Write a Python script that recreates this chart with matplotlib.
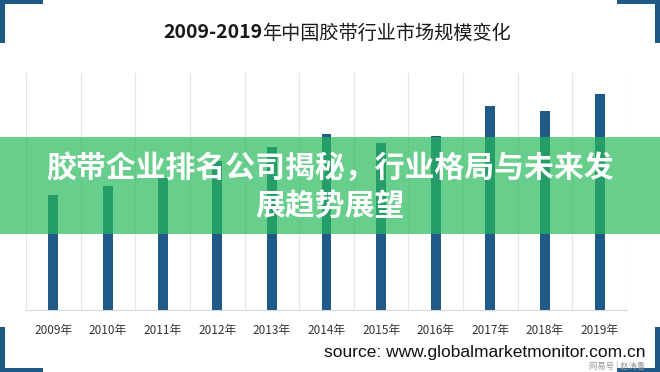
import numpy as np
import matplotlib.pyplot as plt
from matplotlib.patches import Rectangle

plt.rcParams['font.family'] = ['Noto Sans CJK SC', 'DejaVu Sans']

years = ["2009年", "2010年", "2011年", "2012年", "2013年", "2014年",
         "2015年", "2016年", "2017年", "2018年", "2019年"]
market_size = [115, 124, 132, 149, 163, 176, 167, 174, 204, 199, 216]

title_num = "2009-2019"
title_rest = "年中国胶带行业市场规模变化"
banner_line1 = "胶带企业排名公司揭秘，行业格局与未来发"
banner_line2 = "展趋势展望"
source_text = "source: www.globalmarketmonitor.com.cn"
watermark = "网易号 | 赵涛鲁"

bar_color = "#1f5a88"
frame_color = "#1d5a86"
W, H = 660, 372

fig = plt.figure(figsize=(6.6, 3.72), dpi=100)
fig.patch.set_facecolor("white")

ax = fig.add_axes([26 / W, 62 / H, 601 / W, 237 / H])
x = np.arange(len(years))
ax.bar(x, market_size, width=0.18, color=bar_color, zorder=3)
ax.set_xlim(-0.5, len(years) - 0.5)
ax.set_ylim(0, 237)
ax.set_xticks(x)
ax.set_xticklabels(years, fontsize=8.5, color="#333333")
ax.set_xticks(np.arange(-0.5, len(years)), minor=True)
ax.tick_params(axis="x", which="both", length=0, pad=10)
ax.set_yticks([])
ax.grid(which="minor", axis="x", color="#e6e6e6", linewidth=0.9)
for s in ["top", "left", "right"]:
    ax.spines[s].set_visible(False)
ax.spines["bottom"].set_color("#d9d9d9")

# title: bold digits, regular CJK
t1 = fig.text(163 / W, 1 - 33 / H, title_num, fontsize=14, fontweight="bold",
              ha="left", va="center", color="#1a1a1a")
ax.annotate(title_rest, xy=(1, 0.5), xycoords=t1, ha="left", va="center",
            fontsize=13.8, color="#1a1a1a")

# source and watermark
fig.text(645 / W, 1 - 352 / H, source_text, fontsize=12.5, family="Liberation Sans",
         ha="right", va="center", color="#111111")
fig.text(645 / W, 1 - 366 / H, watermark, fontsize=6, ha="right", va="center",
         color="#9a9a9a")

# corner brackets
def corner(x0, y0, w, h):
    fig.add_artist(Rectangle((x0 / W, 1 - (y0 + h) / H), w / W, h / H,
                             transform=fig.transFigure, color=frame_color, lw=0))

corner(0, 0, 43, 4)
corner(0, 0, 5, 43)
corner(617, 0, 43, 4)
corner(655, 0, 5, 43)
corner(0, 368, 43, 4)
corner(0, 327, 5, 45)
corner(617, 368, 43, 4)
corner(655, 327, 5, 45)

# green banner
fig.add_artist(Rectangle((0, 1 - 234 / H), 1, 97 / H, transform=fig.transFigure,
                         color="#27ba5b", alpha=0.7, lw=0, zorder=10))
fig.text(0.5, 1 - 168 / H, banner_line1, fontsize=21.5, fontweight="black",
         color="white", ha="center", va="center", zorder=11)
fig.text(0.5, 1 - 206 / H, banner_line2, fontsize=21.5, fontweight="black",
         color="white", ha="center", va="center", zorder=11)

fig.savefig("out.png", dpi=100)
